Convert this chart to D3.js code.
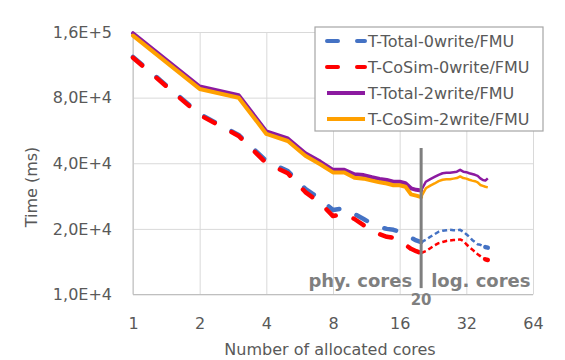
<!DOCTYPE html>
<html>
<head>
<meta charset="utf-8">
<script src="https://cdn.jsdelivr.net/npm/d3@7"></script>
<style>
body { margin: 0; background: #fff; }
text { font-family: "DejaVu Sans", sans-serif; fill: #595959; }
</style>
</head>
<body>
<svg id="ch" width="565" height="360"></svg>
<script>
// number of allocated cores (x values)
var cores = [1,2,3,4,5,6,7,8,9,10,11,12,13,14,15,16,17,18,19,20,
             21,22,23,24,25,26,27,28,29,30,31,32,33,34,35,36,37,38,39,40];

// times in ms
var totalNoWrite = [1.23e5,6.73e4,5.39e4,4.10e4,3.68e4,3.05e4,2.74e4,2.44e4,2.49e4,2.34e4,
                    2.22e4,2.11e4,2.04e4,2.00e4,1.98e4,1.94e4,1.89e4,1.82e4,1.77e4,1.74e4,
                    1.78e4,1.84e4,1.89e4,1.94e4,1.96e4,1.97e4,1.98e4,1.97e4,1.97e4,1.98e4,
                    1.94e4,1.89e4,1.84e4,1.78e4,1.74e4,1.70e4,1.69e4,1.67e4,1.65e4,1.64e4];
var cosimNoWrite = [1.22e5,6.66e4,5.34e4,4.00e4,3.60e4,2.95e4,2.63e4,2.29e4,2.34e4,2.22e4,
                    2.08e4,1.98e4,1.89e4,1.84e4,1.82e4,1.76e4,1.69e4,1.62e4,1.58e4,1.55e4,
                    1.58e4,1.63e4,1.68e4,1.72e4,1.74e4,1.76e4,1.77e4,1.78e4,1.78e4,1.79e4,
                    1.76e4,1.70e4,1.65e4,1.61e4,1.57e4,1.53e4,1.50e4,1.47e4,1.45e4,1.44e4];
var total2Write  = [1.58e5,9.00e4,8.20e4,5.60e4,5.20e4,4.45e4,4.07e4,3.73e4,3.73e4,3.56e4,
                    3.53e4,3.45e4,3.39e4,3.35e4,3.29e4,3.29e4,3.24e4,3.07e4,3.02e4,3.00e4,
                    3.29e4,3.38e4,3.46e4,3.54e4,3.60e4,3.62e4,3.62e4,3.64e4,3.66e4,3.73e4,
                    3.66e4,3.64e4,3.60e4,3.57e4,3.54e4,3.50e4,3.41e4,3.35e4,3.33e4,3.41e4];
var cosim2Write  = [1.54e5,8.77e4,7.99e4,5.45e4,5.06e4,4.33e4,3.96e4,3.63e4,3.63e4,3.43e4,
                    3.40e4,3.33e4,3.27e4,3.23e4,3.17e4,3.17e4,3.12e4,2.88e4,2.84e4,2.80e4,
                    3.07e4,3.16e4,3.23e4,3.31e4,3.36e4,3.38e4,3.38e4,3.40e4,3.42e4,3.48e4,
                    3.42e4,3.40e4,3.36e4,3.33e4,3.31e4,3.27e4,3.18e4,3.15e4,3.12e4,3.10e4];

var seriesNames = ["T-Total-0write/FMU","T-CoSim-0write/FMU","T-Total-2write/FMU","T-CoSim-2write/FMU"];

var xTicks = [1,2,4,8,16,32,64];
var yTicks = [1e4,2e4,4e4,8e4,1.6e5];
var yTickLabels = ["1,0E+4","2,0E+4","4,0E+4","8,0E+4","1,6E+5"];

// physical / logical cores split
var splitCore = 20;
var splitTop = 4.7e4, splitBottom = 1.07e4;

var svg = d3.select("#ch");
var plotL = 133, plotR = 533, plotT = 32, plotB = 294.5;

var x = d3.scaleLog().base(2).domain([1, 64]).range([plotL, plotR]);
var y = d3.scaleLog().base(2).domain([1e4, 1.6e5]).range([plotB, plotT]);

// y axis with grid
var yAxis = svg.append("g")
    .attr("transform", "translate(" + plotL + ",0)")
    .call(d3.axisLeft(y).tickValues(yTicks)
        .tickFormat(function (d, i) { return yTickLabels[i]; })
        .tickSize(-(plotR - plotL)).tickPadding(21));
yAxis.select(".domain").remove();
yAxis.selectAll("line").attr("stroke", "#d9d9d9");
yAxis.selectAll("text").style("font-size", "16px").style("font-family", "DejaVu Sans").attr("fill", "#595959");

// x axis with grid
var xAxis = svg.append("g")
    .attr("transform", "translate(0," + plotB + ")")
    .call(d3.axisBottom(x).tickValues(xTicks)
        .tickFormat(d3.format("d"))
        .tickSize(-(plotB - plotT)).tickPadding(23));
xAxis.select(".domain").remove();
xAxis.selectAll("line").attr("stroke", "#d9d9d9");
xAxis.selectAll("text").style("font-size", "16px").style("font-family", "DejaVu Sans").attr("fill", "#595959");

// axis lines
svg.append("line").attr("x1", plotL).attr("x2", plotL).attr("y1", plotT).attr("y2", plotB)
    .attr("stroke", "#bfbfbf");
svg.append("line").attr("x1", plotL).attr("x2", plotR).attr("y1", plotB).attr("y2", plotB)
    .attr("stroke", "#bfbfbf");

// series
var series = [
    {name: seriesNames[0], values: totalNoWrite, color: "#4472c4", dashed: true},
    {name: seriesNames[1], values: cosimNoWrite, color: "#ff0000", dashed: true},
    {name: seriesNames[2], values: total2Write,  color: "#8c1aa0", dashed: false},
    {name: seriesNames[3], values: cosim2Write,  color: "#ffa000", dashed: false}
];

var line = d3.line()
    .x(function (d) { return x(d.core); })
    .y(function (d) { return y(d.v); });

series.forEach(function (s) {
    var pts = cores.map(function (c, i) { return {core: c, v: s.values[i]}; });
    var phys = pts.filter(function (d) { return d.core <= splitCore; });
    var logi = pts.filter(function (d) { return d.core >= splitCore; });

    svg.append("path")
        .attr("d", line(phys))
        .attr("fill", "none")
        .attr("stroke", s.color)
        .attr("stroke-width", s.dashed ? 4.5 : 4)
        .attr("stroke-linejoin", "round")
        .attr("stroke-linecap", "round")
        .attr("stroke-dasharray", s.dashed ? "12,19" : null);

    svg.append("path")
        .attr("d", line(logi))
        .attr("fill", "none")
        .attr("stroke", s.color)
        .attr("stroke-width", 2.5)
        .attr("stroke-linejoin", "round")
        .attr("stroke-dasharray", s.dashed ? "5,3" : null);

    if (s.dashed) {
        // heavier last segment, as in the reference
        var n = pts.length;
        svg.append("line")
            .attr("x1", x(pts[n - 2].core)).attr("y1", y(pts[n - 2].v))
            .attr("x2", x(pts[n - 1].core)).attr("y2", y(pts[n - 1].v))
            .attr("stroke", s.color).attr("stroke-width", 4.5).attr("stroke-linecap", "round");
    }
});

// physical / logical split marker
svg.append("line")
    .attr("x1", x(splitCore)).attr("x2", x(splitCore))
    .attr("y1", y(splitTop)).attr("y2", y(splitBottom))
    .attr("stroke", "#7f7f7f").attr("stroke-width", 3);
svg.append("text").attr("x", x(splitCore) - 9).attr("y", 287)
    .attr("text-anchor", "end").style("font-size", "18px").style("font-weight", "bold")
    .style("fill", "#7f7f7f").text("phy. cores");
svg.append("text").attr("x", x(splitCore) + 10).attr("y", 287)
    .attr("text-anchor", "start").style("font-size", "18px").style("font-weight", "bold")
    .style("fill", "#7f7f7f").text("log. cores");
svg.append("text").attr("x", x(splitCore)).attr("y", 305)
    .attr("text-anchor", "middle").style("font-size", "15px").style("font-weight", "bold")
    .style("fill", "#7f7f7f").text(splitCore);

// axis titles
svg.append("text").attr("x", 330).attr("y", 355).attr("text-anchor", "middle")
    .style("font-size", "16px").text("Number of allocated cores");
svg.append("text").attr("transform", "translate(37,187) rotate(-90)")
    .attr("text-anchor", "middle").style("font-size", "16px").text("Time (ms)");

// legend
var lg = svg.append("g");
lg.append("rect").attr("x", 315).attr("y", 27).attr("width", 228).attr("height", 104)
    .attr("fill", "#fff").attr("stroke", "#a6a6a6").attr("stroke-width", 1.2);
series.forEach(function (s, i) {
    var cy = 41 + i * 26;
    lg.append("line").attr("x1", 327).attr("x2", 365).attr("y1", cy).attr("y2", cy)
        .attr("stroke", s.color).attr("stroke-width", 4)
        .attr("stroke-linecap", s.dashed ? "round" : "butt")
        .attr("stroke-dasharray", s.dashed ? "11,19" : null);
    lg.append("text").attr("x", 368).attr("y", cy).attr("dy", "0.36em")
        .style("font-size", "16px").text(s.name);
});
</script>
</body>
</html>
